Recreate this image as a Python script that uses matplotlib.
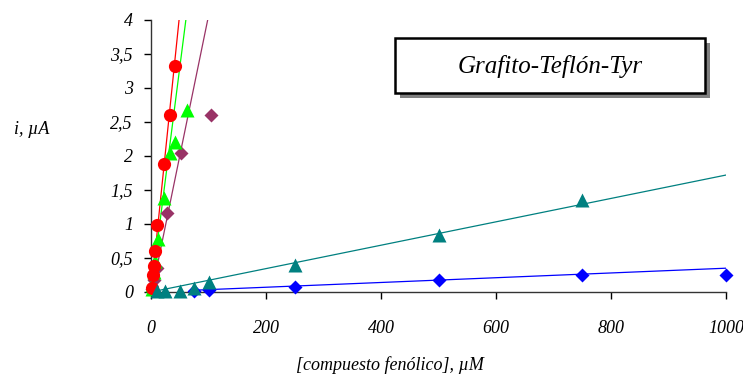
import numpy as np
import matplotlib
matplotlib.use("Agg")
import matplotlib.pyplot as plt
from matplotlib.patches import Rectangle
from matplotlib.ticker import FuncFormatter

# Measured current vs. phenolic compound concentration (µM -> µA)
red_x = [1, 3, 5, 7.5, 10, 23, 33, 42]
red_y = [0.06, 0.25, 0.38, 0.60, 0.99, 1.88, 2.60, 3.32]

green_x = [1, 2.5, 5, 7.5, 12.5, 23, 33, 42, 63]
green_y = [0.04, 0.10, 0.30, 0.45, 0.78, 1.38, 2.04, 2.20, 2.68]

purple_x = [2.5, 5, 10, 28, 53, 104]
purple_y = [0.05, 0.17, 0.35, 1.16, 2.05, 2.60]

teal_x = [10, 25, 50, 75, 100, 250, 500, 750]
teal_y = [0.02, 0.01, 0.01, 0.06, 0.15, 0.40, 0.84, 1.35]

blue_x = [75, 100, 250, 500, 750, 1000]
blue_y = [0.02, 0.03, 0.08, 0.17, 0.25, 0.25]

# Linear calibration fits: slope, intercept, x-range of the drawn line
red_fit = (0.082, 0.0, 0, 55)
green_fit = (0.066, 0.0, 0, 65)
purple_fit = (0.0412, -0.06, 0, 105)
teal_fit = (0.00172, 0.0, 0, 1000)
blue_fit = (0.00035, 0.0, 75, 1000)

x_ticks = [0, 200, 400, 600, 800, 1000]
y_ticks = [0, 0.5, 1, 1.5, 2, 2.5, 3, 3.5, 4]

plt.rcParams['font.family'] = ['Liberation Serif', 'DejaVu Serif']
plt.rcParams['font.style'] = 'italic'

fig = plt.figure(figsize=(7.43, 3.76), dpi=100)
ax = fig.add_axes([151 / 743, 84 / 376, 575 / 743, 272 / 376])


def fit_line(fit, color):
    m, b, x0, x1 = fit
    xs = np.array([x0, x1], dtype=float)
    ax.plot(xs, m * xs + b, color=color, lw=0.9, zorder=2)


fit_line(blue_fit, '#0000FF')
fit_line(teal_fit, '#008080')
fit_line(purple_fit, '#993366')
fit_line(green_fit, '#00FF00')
fit_line(red_fit, '#FF0000')

ax.plot(blue_x, blue_y, 'D', color='#0000FF', ms=7, mec='none', clip_on=False, zorder=3)
ax.plot(purple_x, purple_y, 'D', color='#993366', ms=7, mec='none', clip_on=False, zorder=3)
ax.plot(green_x, green_y, '^', color='#00FF00', ms=10, mec='none', clip_on=False, zorder=4)
ax.plot(red_x, red_y, 'o', color='#FF0000', ms=9.5, mec='none', clip_on=False, zorder=5)
ax.plot(teal_x, teal_y, '^', color='#008080', ms=10, mec='none', clip_on=False, zorder=6)

ax.set_xlim(0, 1000)
ax.set_ylim(0, 4)
ax.set_xticks(x_ticks)
ax.set_yticks(y_ticks)
ax.yaxis.set_major_formatter(FuncFormatter(lambda v, p: f"{v:g}".replace('.', ',')))
ax.tick_params(axis='both', direction='out', length=5, width=1, labelsize=13, colors='black')
ax.tick_params(axis='x', pad=15)
ax.tick_params(axis='y', pad=8)
for side in ('top', 'right'):
    ax.spines[side].set_visible(False)
for side in ('left', 'bottom'):
    ax.spines[side].set_color('#333333')
    ax.spines[side].set_linewidth(1)

fig.text(32 / 743, 1 - 130 / 376, 'i, µA', fontsize=13, ha='center', va='center')
fig.text(390 / 743, 1 - 365 / 376, '[compuesto fenólico], µM', fontsize=13,
         ha='center', va='center')

# Framed title with drop shadow
bx0, by0, bx1, by1 = 395, 38, 705, 93
fig.patches.append(Rectangle(((bx0 + 5) / 743, 1 - (by1 + 5) / 376),
                             (bx1 - bx0) / 743, (by1 - by0) / 376,
                             transform=fig.transFigure, facecolor='#808080',
                             edgecolor='none', zorder=10))
fig.patches.append(Rectangle((bx0 / 743, 1 - by1 / 376),
                             (bx1 - bx0) / 743, (by1 - by0) / 376,
                             transform=fig.transFigure, facecolor='white',
                             edgecolor='black', lw=1.8, zorder=11))
fig.text((bx0 + bx1) / 2 / 743, 1 - 67 / 376, 'Grafito-Teflón-Tyr', fontsize=18,
         ha='center', va='center', zorder=12)

fig.savefig('out.png', dpi=100)
